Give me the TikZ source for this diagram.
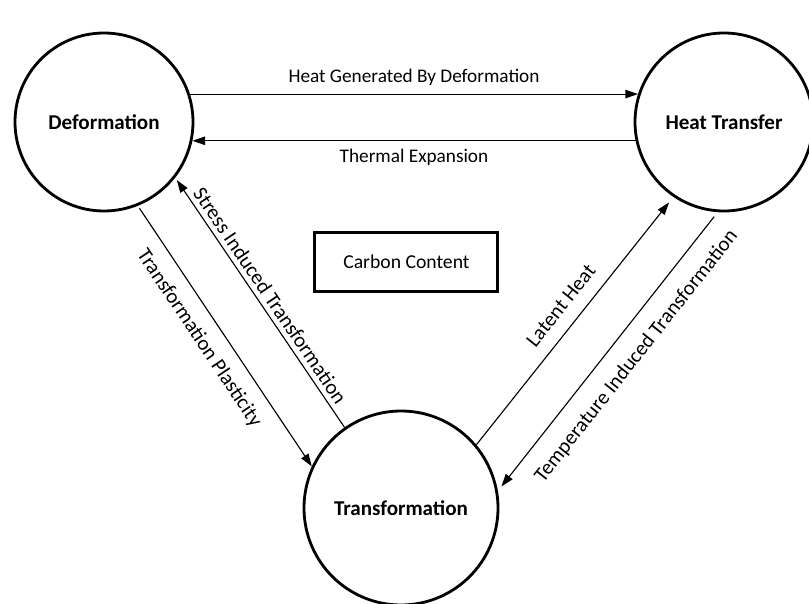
\documentclass[tikz,border=0pt]{standalone}
\usepackage{fontspec}
\setmainfont{Carlito}
\usetikzlibrary{arrows.meta}

\begin{document}
\begin{tikzpicture}[
    stage/.style={circle, draw, line width=2pt, inner sep=0pt,
        font=\fontsize{15}{17}\selectfont\bfseries},
    flow/.style={-{Triangle[length=9pt,width=6pt]}, line width=0.8pt},
    flowlabel/.style={font=\fontsize{13.7}{16}\selectfont},
    slopelabel/.style={sloped, font=\fontsize{14.8}{17}\selectfont},
]

    % Page area
    \useasboundingbox (0,0) rectangle (20.225,-15.1);

    % Deformation Circle
    \node[stage, minimum size=4.45cm] (deform) at (2.6,-3.05) {Deformation};

    % Heat Transfer Circle
    \node[stage, minimum size=4.45cm] (heat) at (18.1,-3.05) {Heat Transfer};

    % Transformation Circle
    \node[stage, minimum size=4.85cm] (trans) at (10.025,-12.7) {Transformation};

    % Carbon Content Box
    \node[draw, line width=2pt, minimum width=4.575cm, minimum height=1.475cm,
        font=\fontsize{14}{16}\selectfont] (carbon) at (10.16,-6.54) {Carbon Content};

    % Deformation <-> Heat Transfer
    \draw[flow] (deform.18) -- node[flowlabel, above=2pt] {Heat Generated By Deformation} (heat.162);
    \draw[flow] (heat.192) -- node[flowlabel, below=2pt] {Thermal Expansion} (deform.-12);

    % Deformation <-> Transformation
    \draw[flow, shorten >=2pt] (trans.125) -- node[slopelabel, above=0pt] {Stress Induced Transformation} (deform.-38);
    \draw[flow, shorten <=2pt] (deform.-68) -- node[slopelabel, below=6pt, pos=0.46] {Transformation Plasticity} (trans.155);

    % Transformation <-> Heat Transfer
    \draw[flow, shorten >=5pt] (trans.40) -- node[slopelabel, above=6pt, pos=0.51] {Latent Heat} (heat.236);
    \draw[flow, shorten <=4pt, shorten >=4pt] (heat.266) -- node[slopelabel, below=8pt, pos=0.46] {Temperature Induced Transformation} (trans.10);

\end{tikzpicture}
\end{document}
